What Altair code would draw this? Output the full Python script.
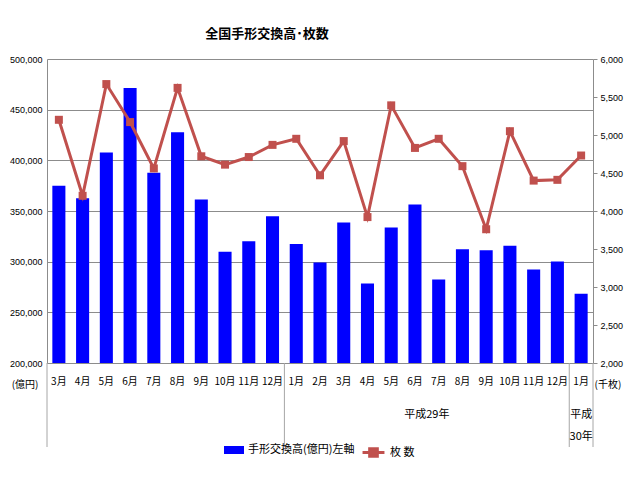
import altair as alt
import pandas as pd

# ---- data ----
years = ["H28"] * 10 + ["H29"] * 12 + ["H30"]
months = ["3月", "4月", "5月", "6月", "7月", "8月", "9月", "10月", "11月", "12月",
          "1月", "2月", "3月", "4月", "5月", "6月", "7月", "8月", "9月", "10月", "11月", "12月",
          "1月"]
amounts = [375000, 362600, 407700, 471500, 387800, 427700, 361300, 309900, 320100, 344900,
           317400, 299100, 338700, 278500, 333800, 356400, 282400, 312200, 311200, 315800,
           292300, 300100, 268400]
counts = [5200, 4200, 5670, 5170, 4560, 5620, 4720, 4610, 4710, 4870,
          4950, 4470, 4920, 3920, 5390, 4830, 4950, 4590, 3760, 5050,
          4400, 4410, 4730]

series_bar = "手形交換高(億円)左軸"
series_line = "枚 数"
title_text = "全国手形交換高･枚数"
left_unit = "(億円)"
right_unit = "(千枚)"
left_ticks = [200000, 250000, 300000, 350000, 400000, 450000, 500000]
right_ticks = [2000, 2500, 3000, 3500, 4000, 4500, 5000, 5500, 6000]

keys = [f"{y}|{m}" for y, m in zip(years, months)]
df = pd.DataFrame({"key": keys, "amount": amounts, "count": counts,
                   "s1": series_bar, "s2": series_line})

sep_start_keys = ["H28|3月", "H29|1月", "H30|1月"]
sep_end_keys = ["H30|1月"]
grp29 = pd.DataFrame({"key": ["H29|7月"], "label": ["平成29年"]})
grp30 = pd.DataFrame({"key": ["H30|1月"], "label": ["平成\n30年"]})

W, H = 546, 304
NUM_FONT = "Liberation Sans"
JP_FONT = "Noto Sans CJK JP"
GRID = "#8c8c8c"

xscale = alt.Scale(domain=keys, paddingInner=0, paddingOuter=0)
xaxis = alt.Axis(title=None, labelExpr="split(datum.value, '|')[1]", ticks=False,
                 labelPadding=13, labelAngle=0, domainColor=GRID, labelFont=JP_FONT,
                 labelFontSize=10, labelColor="#000", grid=False, labelOverlap=False)

bars = alt.Chart(df).mark_bar(width=alt.RelativeBandSize(0.55), clip=True).encode(
    x=alt.X("key:N", sort=keys, scale=xscale, axis=xaxis),
    y=alt.Y("amount:Q",
            scale=alt.Scale(domain=[200000, 500000], nice=False, zero=False),
            axis=alt.Axis(values=left_ticks, format=",.0f", title=left_unit, titleAngle=0,
                          titleX=-9, titleY=H + 21, titleAlign="right", titleBaseline="middle",
                          titleFont=JP_FONT, titleFontSize=10, titleFontWeight="normal",
                          titleColor="#000",
                          ticks=False, labelPadding=5, labelFont=NUM_FONT, labelFontSize=9,
                          labelColor="#000", domainColor=GRID, grid=True, gridColor=GRID)),
    y2=alt.datum(200000),
    color=alt.Color("s1:N", scale=alt.Scale(domain=[series_bar], range=["#0000FF"]),
                    legend=alt.Legend(title=None, orient="none", legendX=177, legendY=381,
                                      symbolType="M-1,-0.4H1V0.4H-1Z", symbolSize=400,
                                      symbolStrokeWidth=0, labelFont=JP_FONT,
                                      labelFontSize=11, labelColor="#000")),
)

line = alt.Chart(df).mark_line(strokeWidth=3, point=alt.OverlayMarkDef(
    shape="square", filled=True, size=64, color="#C0504D", opacity=1)).encode(
    x=alt.X("key:N", sort=keys, scale=xscale, axis=xaxis),
    y=alt.Y("count:Q",
            scale=alt.Scale(domain=[2000, 6000], nice=False, zero=False),
            axis=alt.Axis(orient="right", values=right_ticks, format=",.0f", title=right_unit,
                          titleAngle=0, titleX=1, titleY=H + 21, titleAlign="left",
                          titleBaseline="middle", titleFont=JP_FONT, titleFontSize=10,
                          titleFontWeight="normal", titleColor="#000",
                          ticks=True, tickSize=4, tickColor=GRID, labelPadding=3,
                          labelFont=NUM_FONT, labelFontSize=9, labelColor="#000",
                          domainColor=GRID, grid=False)),
    color=alt.Color("s2:N", scale=alt.Scale(domain=[series_line], range=["#C0504D"]),
                    legend=alt.Legend(title=None, orient="none", legendX=314, legendY=381,
                                      symbolType="M-1,0H1M-0.35,-0.35H0.35V0.35H-0.35Z",
                                      symbolSize=480, symbolStrokeWidth=3,
                                      symbolFillColor="#C0504D", labelFont=JP_FONT,
                                      labelFontSize=11, labelColor="#000")),
)

seps_a = alt.Chart(pd.DataFrame({"key": sep_start_keys})).mark_rule(
    color="#a6a6a6", strokeWidth=1).encode(
    x=alt.X("key:N", sort=keys, scale=xscale, axis=xaxis, bandPosition=0),
    y=alt.value(H), y2=alt.value(H + 84))
seps_b = alt.Chart(pd.DataFrame({"key": sep_end_keys})).mark_rule(
    color="#a6a6a6", strokeWidth=1).encode(
    x=alt.X("key:N", sort=keys, scale=xscale, axis=xaxis, bandPosition=1),
    y=alt.value(H), y2=alt.value(H + 84))

lab29 = alt.Chart(grp29).mark_text(font=JP_FONT, fontSize=11, color="#000",
                                   baseline="middle", align="center").encode(
    x=alt.X("key:N", sort=keys, scale=xscale, axis=xaxis, bandPosition=0),
    y=alt.value(H + 52), text="label:N")
lab30 = alt.Chart(grp30).mark_text(font=JP_FONT, fontSize=11, color="#000",
                                   baseline="top", align="center", lineBreak="\n",
                                   lineHeight=22).encode(
    x=alt.X("key:N", sort=keys, scale=xscale, axis=xaxis, bandPosition=0.5),
    y=alt.value(H + 46), text="label:N")

chart = alt.layer(bars, line, seps_a, seps_b, lab29, lab30).resolve_scale(
    y="independent", color="independent"
).resolve_legend(color="independent").properties(
    width=W, height=H,
    title=alt.Title(title_text, font=JP_FONT, fontSize=13, fontWeight="bold",
                    anchor="middle", dx=-53, offset=14, color="#000"),
    autosize=alt.AutoSizeParams(type="none"),
    padding={"left": 39, "top": 51, "right": 39, "bottom": 110},
    background="white",
).configure_view(stroke=None)

chart.save("out.html", embed_options={"renderer": "svg", "actions": False})
